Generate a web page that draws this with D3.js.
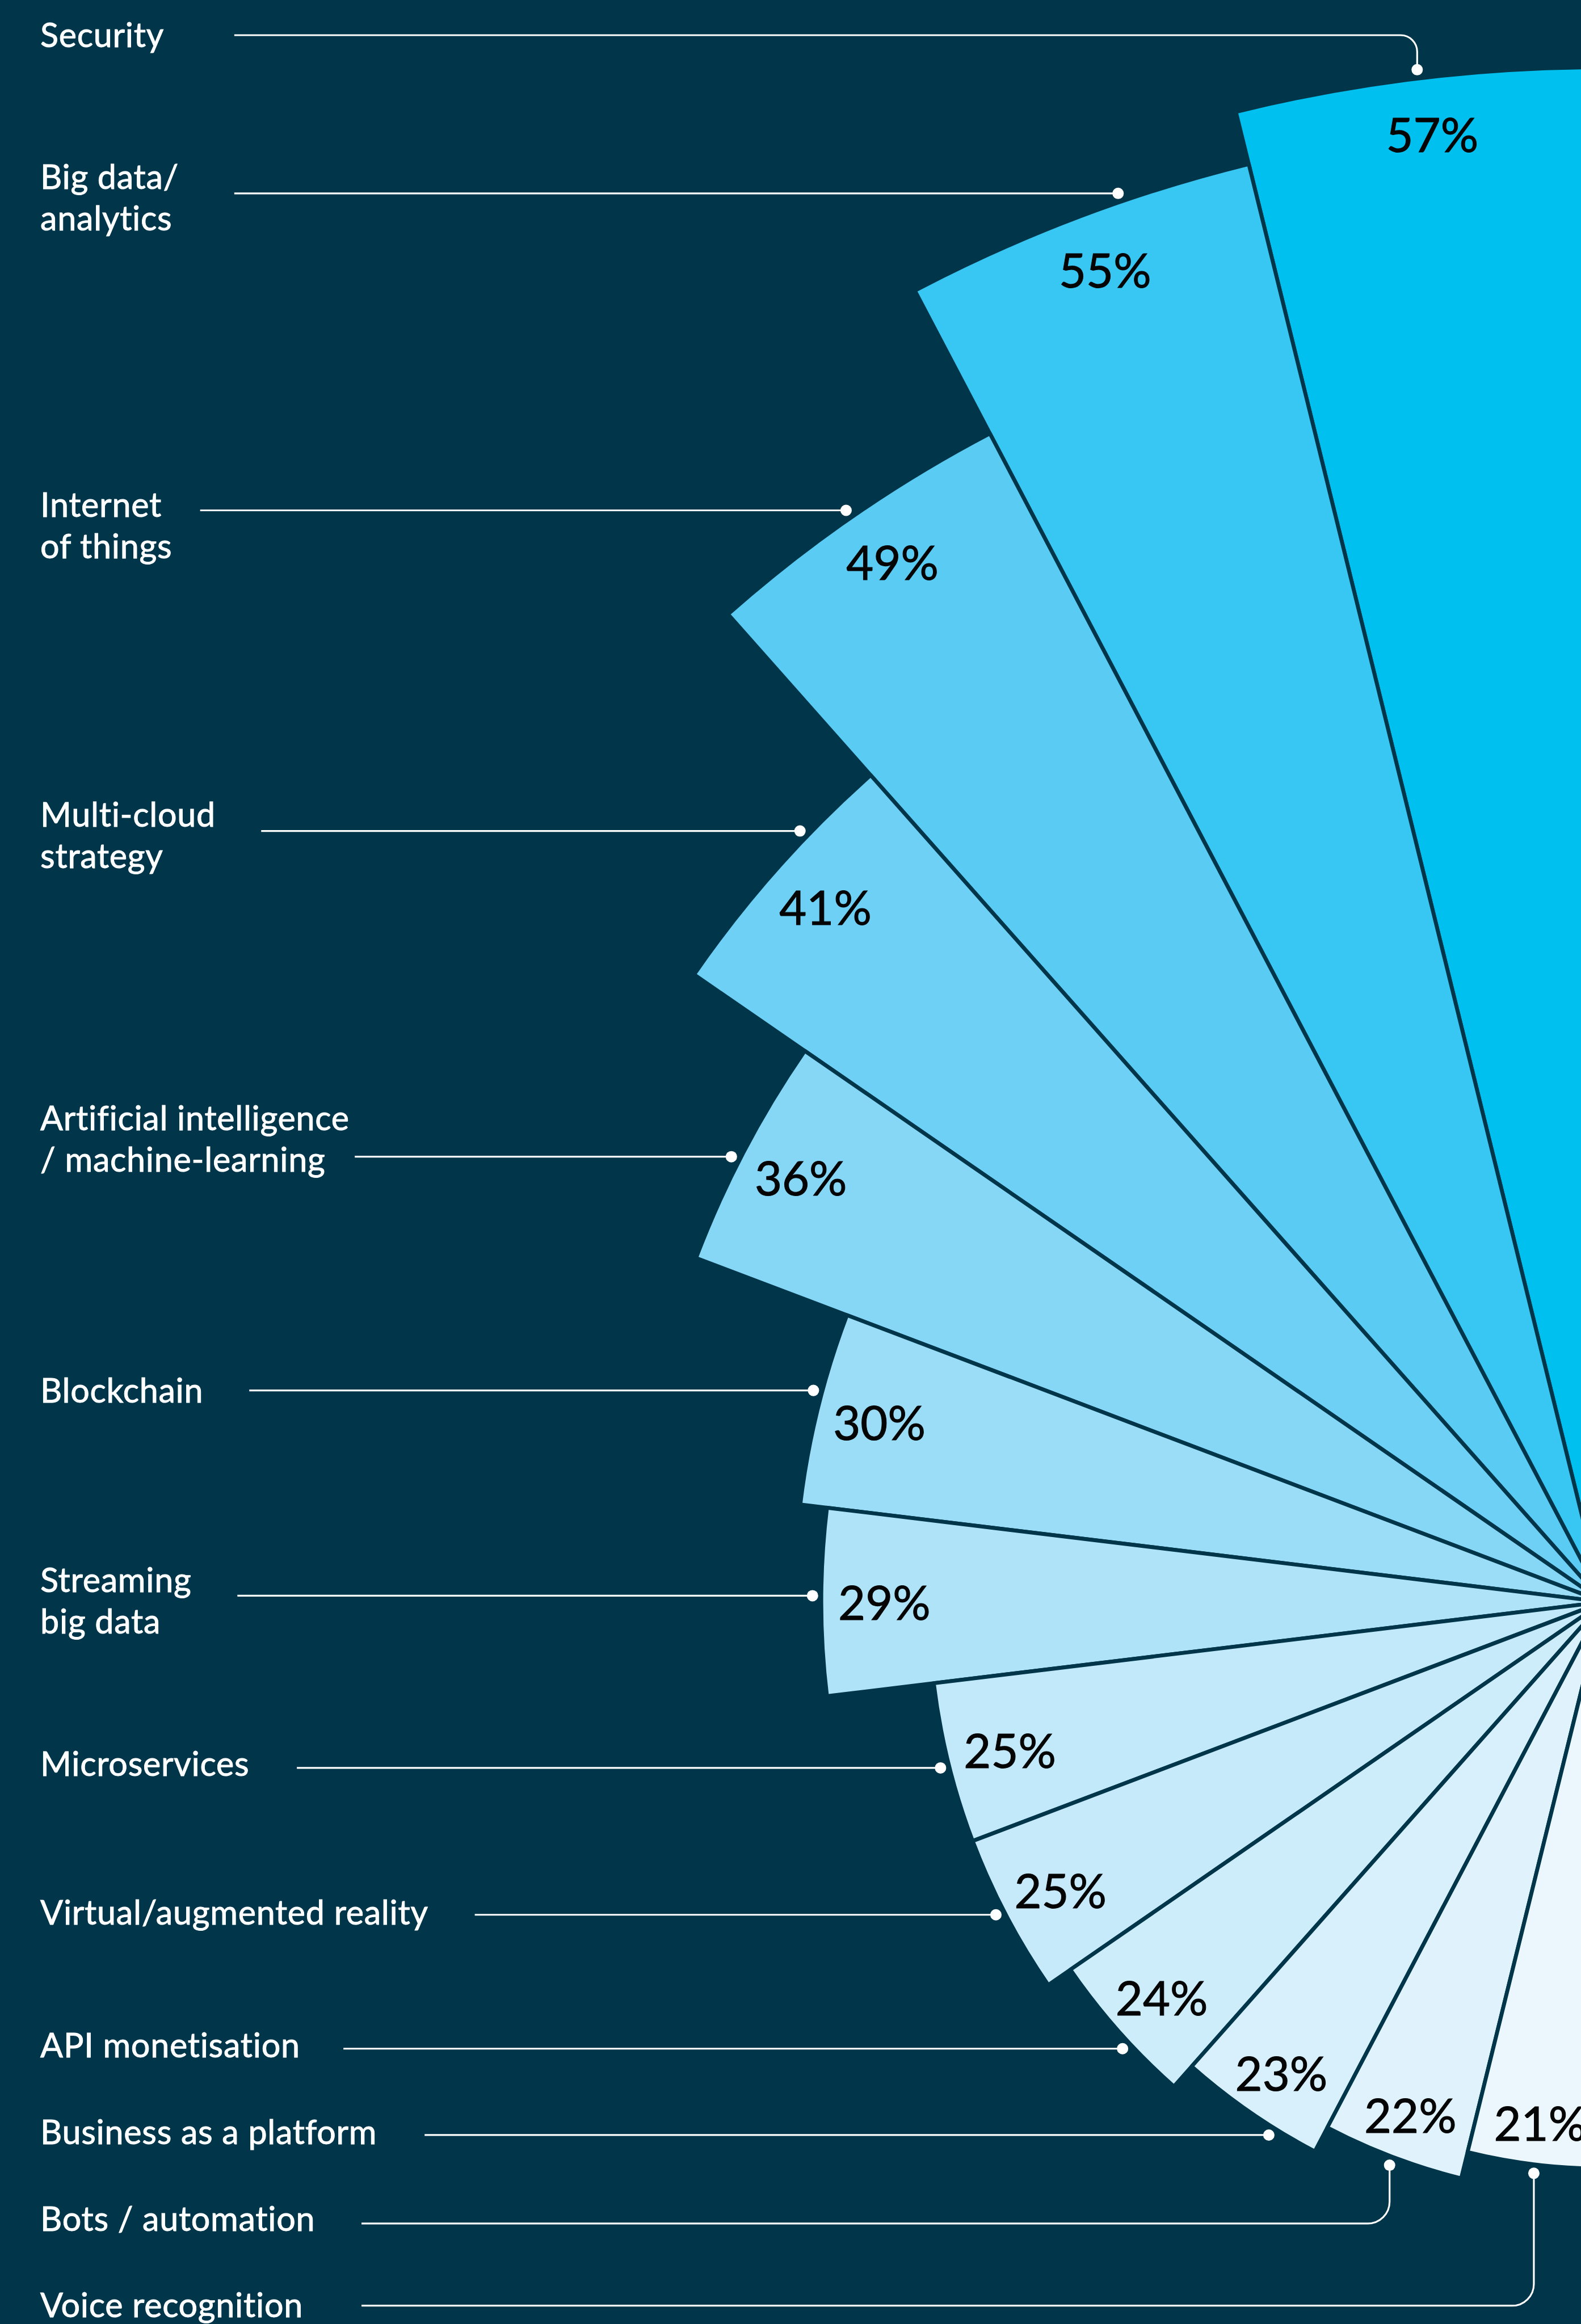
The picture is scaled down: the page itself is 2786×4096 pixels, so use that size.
<!DOCTYPE html>
<html>
<head>
<meta charset="utf-8">
<script src="https://cdn.jsdelivr.net/npm/d3@7"></script>
<style>
  html, body { margin: 0; padding: 0; background: #01364a; }
  svg { display: block; }
</style>
</head>
<body>
<div id="chart"></div>
<script>
// ---- data ----
const categories = [
  "Security",
  "Big data/\nanalytics",
  "Internet\nof things",
  "Multi-cloud\nstrategy",
  "Artificial intelligence\n/ machine-learning",
  "Blockchain",
  "Streaming\nbig data",
  "Microservices",
  "Virtual/augmented reality",
  "API monetisation",
  "Business as a platform",
  "Bots / automation",
  "Voice recognition"
];
const values = [57, 55, 49, 41, 36, 30, 29, 25, 25, 24, 23, 22, 21];

// ---- layout (reference pixels, 3057 x 4495) ----
const textBase = [91, 365, 1000, 1599, 2186, 2712, 3079, 3435, 3722, 3979, 4147, 4315, 4481];
const leaderY  = [68, 374, 987, 1607, 2237, 2689, 3086, 3419, 3703, 3962, 4129, 4300, 4459];
const leaderX0 = [453, 453, 387, 505, 686, 482, 459, 574, 918, 664, 821, 699, 699];
const palette = ["#00c0ef", "#38c6f2", "#5acbf2", "#6fd0f5", "#86d6f6", "#9bddf7", "#afe4f8",
                 "#c2e9f9", "#c6eafa", "#ceedfb", "#d7f0fb", "#e0f3fc", "#ebf7fd"];

const BG = "#01364a";
const W = 2786, H = 4096;
const k = W / 3057;
const cx = 3100, cy = 3098;

const rows = categories.map((c, i) => ({c, v: values[i], i}));

const svg = d3.select("#chart").append("svg")
  .attr("width", W)
  .attr("height", H);

svg.append("rect").attr("width", W).attr("height", H).attr("fill", BG);

const root = svg.append("g").attr("transform", `scale(${k})`);

const scaleA = d3.scaleBand().domain(categories).range([0, -Math.PI]);
const scaleR = d3.scaleLinear().domain([0, 100]).range([0, 5200]);

const mid = d => scaleA(d.c) + scaleA.bandwidth() / 2;

const arc = d3.arc()
  .innerRadius(0)
  .outerRadius(d => scaleR(d.v) + 4)
  .startAngle(d => scaleA(d.c))
  .endAngle(d => scaleA(d.c) + scaleA.bandwidth());

const plot = root.append("g").attr("transform", `translate(${cx},${cy})`);

plot.selectAll(".slice")
  .data(rows)
  .enter()
  .append("path")
  .attr("class", "slice")
  .attr("d", arc)
  .attr("fill", d => palette[d.i])
  .attr("stroke", BG)
  .attr("stroke-width", 7.5)
  .attr("stroke-linejoin", "round");

// percent labels: sit a little inside each slice's outer edge
const lower = d => Math.max(0, (-mid(d) * 180 / Math.PI - 110) / 63);
const inset = d => 104 - 26 * lower(d);
const nudge = d => 14 * (1 - lower(d));

plot.selectAll(".pct")
  .data(rows)
  .enter()
  .append("text")
  .attr("class", "pct")
  .attr("x", d => (scaleR(d.v) - inset(d)) * Math.sin(mid(d)) + nudge(d))
  .attr("y", d => -(scaleR(d.v) - inset(d)) * Math.cos(mid(d)))
  .attr("text-anchor", "middle")
  .attr("dominant-baseline", "central")
  .attr("font-family", "Lato, 'Open Sans', sans-serif")
  .attr("font-size", 91)
  .attr("fill", "#050505")
  .attr("stroke", "#050505")
  .attr("stroke-width", 1.2)
  .text(d => d.v + "%");

// category labels
const labels = root.selectAll(".label")
  .data(rows)
  .enter()
  .append("text")
  .attr("class", "label")
  .attr("x", 78)
  .attr("y", d => textBase[d.i])
  .attr("font-family", "Lato, 'Open Sans', sans-serif")
  .attr("font-size", 65)
  .attr("letter-spacing", 0.8)
  .attr("fill", "#ffffff")
  .attr("stroke", "#ffffff")
  .attr("stroke-width", 1);

labels.selectAll("tspan")
  .data(d => d.c.split("\n"))
  .enter()
  .append("tspan")
  .attr("x", 78)
  .attr("dy", (t, j) => j === 0 ? 0 : 80)
  .text(t => t);

// leader lines + dots
const gap = 21, rc = 32;
const leaders = rows.map(d => {
  const R = scaleR(d.v) + gap;
  const y = leaderY[d.i];
  const x0 = leaderX0[d.i];
  const dyc = y - cy;
  if (Math.abs(dyc) < R) {
    const x = cx - Math.sqrt(R * R - dyc * dyc);
    return {d, path: `M${x0},${y}H${x}`, dot: [x, y]};
  }
  const m = mid(d);
  const dx = cx + R * Math.sin(m), dy = cy - R * Math.cos(m);
  const down = dy > y;
  const r = down ? rc : rc + 10;
  const path = `M${x0},${y}H${dx - r}A${r},${r} 0 0 ${down ? 1 : 0} ${dx},${down ? y + r : y - r}V${dy}`;
  return {d, path, dot: [dx, dy]};
});

root.selectAll(".leader")
  .data(leaders)
  .enter()
  .append("path")
  .attr("class", "leader")
  .attr("d", l => l.path)
  .attr("fill", "none")
  .attr("stroke", "#ffffff")
  .attr("stroke-width", 3.5);

root.selectAll(".dot")
  .data(leaders)
  .enter()
  .append("circle")
  .attr("class", "dot")
  .attr("cx", l => l.dot[0])
  .attr("cy", l => l.dot[1])
  .attr("r", 11)
  .attr("fill", "#ffffff");
</script>
</body>
</html>
